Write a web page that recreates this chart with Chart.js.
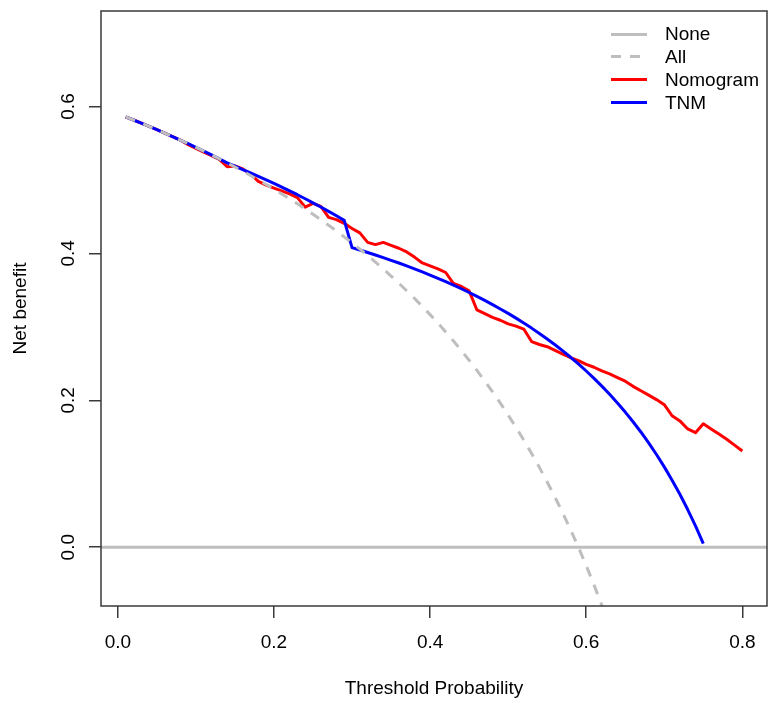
<!DOCTYPE html>
<html>
<head>
<meta charset="utf-8">
<script src="https://cdn.jsdelivr.net/npm/chart.js@4/dist/chart.umd.min.js"></script>
<style>
  html, body { margin: 0; padding: 0; background: #fff; }
  #wrap { position: relative; width: 769px; height: 701px; }
  #c { position: absolute; left: 0; top: 0; }
  .lg { position: absolute; font-family: "Liberation Sans", Arial, Helvetica, sans-serif; font-size: 19px; color: #000; line-height: 22px; height: 22px; white-space: nowrap; }
  .sw { position: absolute; width: 36px; height: 0; }
</style>
</head>
<body>
<div id="wrap">
  <canvas id="c" width="769" height="701"></canvas>
  <div id="legend"></div>
</div>
<script>
// ---- Data ----
const thresholds = [0.01,0.02,0.03,0.04,0.05,0.06,0.07,0.08,0.09,0.10,
  0.11,0.12,0.13,0.14,0.15,0.16,0.17,0.18,0.19,0.20,
  0.21,0.22,0.23,0.24,0.25,0.26,0.27,0.28,0.29,0.30,
  0.31,0.32,0.33,0.34,0.35,0.36,0.37,0.38,0.39,0.40,
  0.41,0.42,0.43,0.44,0.45,0.46,0.47,0.48,0.49,0.50,
  0.51,0.52,0.53,0.54,0.55,0.56,0.57,0.58,0.59,0.60,
  0.61,0.62,0.63,0.64,0.65,0.66,0.67,0.68,0.69,0.70,
  0.71,0.72,0.73,0.74,0.75,0.76,0.77,0.78,0.79,0.80];

const allNB = [0.5860,0.5816,0.5773,0.5729,0.5684,0.5638,0.5591,0.5543,0.5495,0.5444,
  0.5393,0.5341,0.5287,0.5233,0.5176,0.5119,0.5060,0.5000,0.4938,0.4875,
  0.4810,0.4744,0.4675,0.4605,0.4533,0.4459,0.4383,0.4306,0.4225,0.4143,
  0.4058,0.3971,0.3881,0.3788,0.3692,0.3594,0.3492,0.3387,0.3279,0.3167,
  0.3051,0.2931,0.2807,0.2679,0.2545,0.2407,0.2264,0.2115,0.1961,0.1800,
  0.1633,0.1458,0.1276,0.1087,0.0889,0.0682,0.0465,0.0238,0.0000,-0.0250,
  -0.0513,-0.0790,-0.1081];

const nomogramNB = [0.5860,0.5816,0.5773,0.5729,0.5684,0.5638,0.5591,0.5543,0.5480,0.5430,
  0.5380,0.5330,0.5280,0.5180,0.5190,0.5150,0.5080,0.4980,0.4930,0.4890,
  0.4850,0.4810,0.4760,0.4630,0.4680,0.4640,0.4490,0.4460,0.4410,0.4340,
  0.4280,0.4150,0.4120,0.4150,0.4110,0.4070,0.4020,0.3950,0.3870,0.3830,
  0.3790,0.3740,0.3590,0.3550,0.3490,0.3230,0.3180,0.3130,0.3090,0.3040,
  0.3010,0.2970,0.2800,0.2760,0.2730,0.2680,0.2630,0.2580,0.2540,0.2490,
  0.2450,0.2400,0.2360,0.2310,0.2260,0.2190,0.2130,0.2070,0.2010,0.1940,
  0.1790,0.1720,0.1610,0.1560,0.1680,0.1610,0.1540,0.1470,0.1390,0.1310];

const tnmNB = [0.5860,0.5816,0.5773,0.5729,0.5684,0.5638,0.5591,0.5543,0.5495,0.5444,
  0.5393,0.5341,0.5287,0.5233,0.5187,0.5142,0.5097,0.5050,0.5002,0.4953,
  0.4903,0.4851,0.4799,0.4744,0.4689,0.4631,0.4573,0.4512,0.4450,0.4078,
  0.4046,0.4013,0.3978,0.3943,0.3906,0.3869,0.3830,0.3790,0.3748,0.3705,
  0.3661,0.3615,0.3568,0.3519,0.3468,0.3415,0.3360,0.3303,0.3244,0.3183,
  0.3119,0.3052,0.2983,0.2910,0.2835,0.2756,0.2673,0.2586,0.2495,0.2399,
  0.2299,0.2193,0.2082,0.1964,0.1840,0.1708,0.1569,0.1420,0.1262,0.1094,
  0.0913,0.0721,0.0513,0.0290,0.0049];

const noneNB = [0, 0];

const xTickValues = [0.0, 0.2, 0.4, 0.6, 0.8];
const yTickValues = [0.0, 0.2, 0.4, 0.6];
const seriesNames = ["None", "All", "Nomogram", "TNM"];

// ---- Axis limits (R style 4% extension) ----
const X_MIN = -0.0216, X_MAX = 0.8316;
const Y_MIN = -0.08, Y_MAX = 0.73;

const GREY = '#BEBEBE', RED = '#FF0000', BLUE = '#0000FF', AXIS = '#3a3a3a';
const FONT = '"Liberation Sans", Arial, Helvetica, sans-serif';

function pts(xs, ys) { return ys.map((y, i) => ({ x: xs[i], y: y })); }

const boxPlugin = {
  id: 'box',
  afterDraw(chart) {
    const { ctx, chartArea: a } = chart;
    ctx.save();
    ctx.strokeStyle = AXIS;
    ctx.lineWidth = 1.5;
    ctx.strokeRect(a.left, a.top, a.right - a.left, a.bottom - a.top);
    ctx.restore();
  }
};

const chart = new Chart(document.getElementById('c'), {
  type: 'line',
  data: {
    datasets: [
      { label: seriesNames[0], data: [{x: X_MIN, y: noneNB[0]}, {x: X_MAX, y: noneNB[1]}],
        borderColor: GREY, borderWidth: 3, pointRadius: 0, order: 3, clip: 0 },
      { label: seriesNames[1], data: pts(thresholds, allNB), borderColor: GREY, borderWidth: 3,
        borderDash: [10, 9], pointRadius: 0, order: 0, clip: 0 },
      { label: seriesNames[2], data: pts(thresholds, nomogramNB), borderColor: RED, borderWidth: 3,
        pointRadius: 0, order: 2, clip: 0 },
      { label: seriesNames[3], data: pts(thresholds, tnmNB), borderColor: BLUE, borderWidth: 3,
        pointRadius: 0, order: 1, clip: 0 }
    ]
  },
  options: {
    responsive: false,
    animation: false,
    devicePixelRatio: 1,
    layout: { padding: { top: 11, right: 2, left: 0, bottom: 0 } },
    plugins: { legend: { display: false }, tooltip: { enabled: false } },
    elements: { line: { tension: 0, borderCapStyle: 'butt', borderJoinStyle: 'round' } },
    scales: {
      x: {
        type: 'linear', min: X_MIN, max: X_MAX,
        afterFit(s) { s.height = 95; s.paddingLeft = 0; s.paddingRight = 0; },
        afterBuildTicks(s) { s.ticks = xTickValues.map(v => ({ value: v })); },
        grid: { display: true, drawOnChartArea: false, drawTicks: true, tickLength: 12, color: AXIS, lineWidth: 1.5 },
        border: { display: false },
        ticks: { color: '#000', font: { family: FONT, size: 19 }, padding: 13, maxRotation: 0, minRotation: 0,
          callback: v => Number(v).toFixed(1) },
        title: { display: true, text: 'Threshold Probability', color: '#000',
          font: { family: FONT, size: 19 }, padding: { top: 0, bottom: 1 } }
      },
      y: {
        type: 'linear', min: Y_MIN, max: Y_MAX,
        afterFit(s) { s.width = 101; s.paddingTop = 0; s.paddingBottom = 0; },
        afterBuildTicks(s) { s.ticks = yTickValues.map(v => ({ value: v })); },
        grid: { display: true, drawOnChartArea: false, drawTicks: true, tickLength: 12, color: AXIS, lineWidth: 1.5 },
        border: { display: false },
        ticks: { color: '#000', font: { family: FONT, size: 19 }, padding: 7, minRotation: 90, maxRotation: 90,
          crossAlign: 'center', callback: v => Number(v).toFixed(1) },
        title: { display: true, text: 'Net benefit', color: '#000',
          font: { family: FONT, size: 19 }, padding: { top: 9, bottom: 0 } }
      }
    }
  },
  plugins: [boxPlugin]
});

// ---- Legend (top right, no box) ----
(function buildLegend() {
  const lg = document.getElementById('legend');
  const rows = [
    { name: seriesNames[0], color: GREY, dash: false },
    { name: seriesNames[1], color: GREY, dash: true },
    { name: seriesNames[2], color: RED, dash: false },
    { name: seriesNames[3], color: BLUE, dash: false }
  ];
  const firstY = 34, step = 22.9, swLeft = 611, txtLeft = 665;
  rows.forEach((r, i) => {
    const cy = firstY + i * step;
    const sw = document.createElement('div');
    sw.className = 'sw';
    sw.style.left = swLeft + 'px';
    sw.style.top = (cy - 1.5) + 'px';
    if (r.dash) {
      sw.style.height = '3px';
      sw.style.background = 'repeating-linear-gradient(to right, ' + r.color + ' 0 10px, transparent 10px 19px)';
      sw.style.width = '29px';
    } else {
      sw.style.borderTop = '3px solid ' + r.color;
    }
    lg.appendChild(sw);
    const t = document.createElement('div');
    t.className = 'lg';
    t.style.left = txtLeft + 'px';
    t.style.top = (cy - 11) + 'px';
    t.textContent = r.name;
    lg.appendChild(t);
  });
})();
</script>
</body>
</html>
